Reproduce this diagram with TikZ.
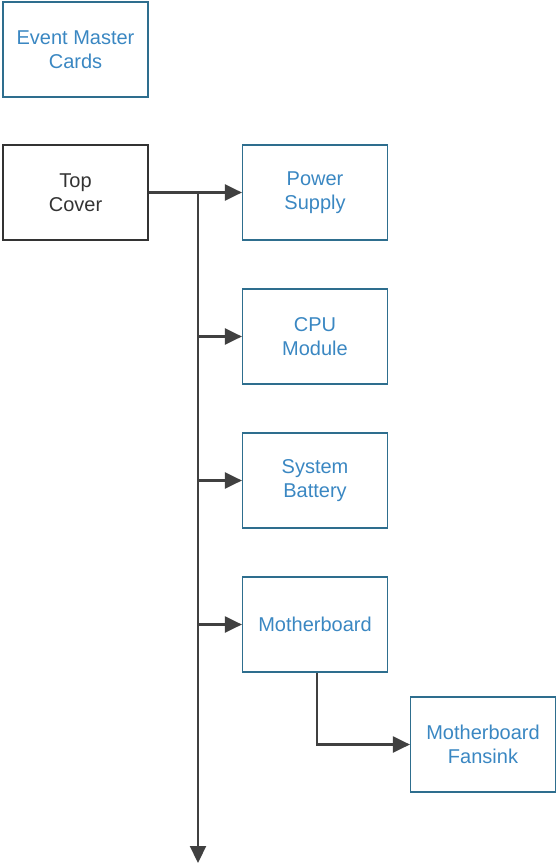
\documentclass[tikz,border=0pt]{standalone}
\usepackage{fontspec}
\setmainfont{Liberation Sans}
\usetikzlibrary{arrows.meta}
\definecolor{boxblue}{HTML}{2E6E8E}
\definecolor{txtblue}{HTML}{3A87C2}
\definecolor{linegray}{HTML}{404040}
\definecolor{txtgray}{HTML}{333333}
\begin{document}
\begin{tikzpicture}[x=1pt,y=-1pt,
  bluebox/.style={draw=boxblue, line width=1.2pt, minimum width=145pt, minimum height=95pt, inner sep=0pt,
    text=txtblue, align=center, font=\fontsize{20}{23.5}\selectfont},
  blackbox/.style={draw=black!80, line width=1.2pt, minimum width=145pt, minimum height=95pt, inner sep=0pt,
    text=txtgray, align=center, font=\fontsize{20}{23.5}\selectfont},
  conn/.style={draw=linegray, line width=2.2pt},
  arr/.style={conn, -{Triangle[length=17pt,width=16pt]}}]
\useasboundingbox (0,0) rectangle (556,866);
\node[bluebox] (emc) at (75.5,49.5) {Event Master\\Cards};
\node[blackbox] (top) at (75.5,192.5) {Top\\Cover};
\node[bluebox] (ps) at (315,192.5) {Power\\Supply};
\node[bluebox] (cpu) at (315,336.5) {CPU\\Module};
\node[bluebox] (bat) at (315,480.5) {System\\Battery};
\node[bluebox] (mb) at (315,624.5) {Motherboard};
\node[bluebox] (fan) at (483,744.5) {Motherboard\\Fansink};
\coordinate (j0) at (198,192.5);
\coordinate (j1) at (198,336.5);
\coordinate (j2) at (198,480.5);
\coordinate (j3) at (198,624.5);
\coordinate (end) at (198,863);
\draw[arr] (top.east) -- (ps.west);
\draw[arr] (j0) -- (end);
\draw[arr] (j1) -- (cpu.west);
\draw[arr] (j2) -- (bat.west);
\draw[arr] (j3) -- (mb.west);
\draw[arr] (mb.south) ++(2,0) |- (fan.west);
\end{tikzpicture}
\end{document}
